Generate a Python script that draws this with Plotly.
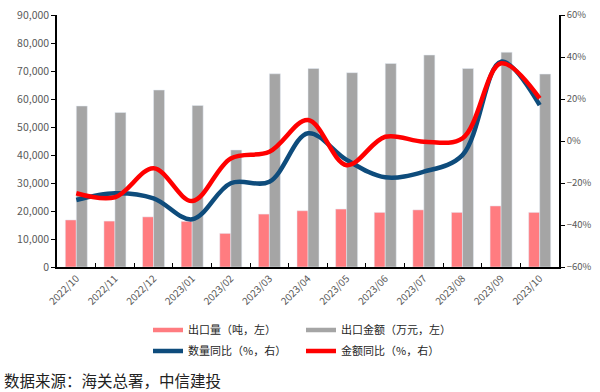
import plotly.graph_objects as go
from plotly.subplots import make_subplots

months = ["2022/10", "2022/11", "2022/12", "2023/01", "2023/02", "2023/03", "2023/04",
          "2023/05", "2023/06", "2023/07", "2023/08", "2023/09", "2023/10"]
export_qty = [16800, 16400, 17900, 16300, 12000, 18900, 20100, 20700, 19500, 20400, 19500, 21800, 19500]
export_amt = [57500, 55200, 63200, 57700, 41800, 69000, 70900, 69400, 72700, 75700, 70900, 76700, 68900]
qty_yoy = [-28.1, -24.9, -27.3, -37.3, -20.1, -19.4, 3.7, -9.0, -17.3, -14.6, -6.7, 37.8, 17.1]
amt_yoy = [-24.9, -26.8, -13.0, -28.6, -8.3, -5.1, 10.0, -11.5, 2.0, -0.3, 1.3, 37.0, 20.3]

names = ["出口量（吨，左）", "出口金额（万元，左）", "数量同比（%，右）", "金额同比（%，右）"]
PINK = "#FF7C80"
GRAY = "#A5A5A5"
BLUE = "#0E4C7C"
RED = "#FF0000"
FONT = "Noto Sans CJK SC"

fig = make_subplots(specs=[[{"secondary_y": True}]])

fig.add_trace(go.Bar(x=months, y=export_qty, marker_color=PINK, name=names[0], showlegend=False),
              secondary_y=False)
fig.add_trace(go.Bar(x=months, y=export_amt, marker_color=GRAY, name=names[1], showlegend=False),
              secondary_y=False)
fig.add_trace(go.Scatter(x=months, y=qty_yoy, mode="lines", name=names[2], showlegend=False,
                         line=dict(color=BLUE, width=4.5, shape="spline", smoothing=1.0)),
              secondary_y=True)
fig.add_trace(go.Scatter(x=months, y=amt_yoy, mode="lines", name=names[3], showlegend=False,
                         line=dict(color=RED, width=4.5, shape="spline", smoothing=1.0)),
              secondary_y=True)

# legend entries drawn as thick line swatches like the reference (two one-row legends)
for i, (nm, col) in enumerate(zip(names, [PINK, GRAY, BLUE, RED])):
    fig.add_trace(go.Scatter(x=[None], y=[None], mode="lines", name=nm,
                             line=dict(color=col, width=4.5), showlegend=True,
                             legend="legend" if i < 2 else "legend2"),
                  secondary_y=True)

leg_common = dict(orientation="h", xref="container", yref="container",
                  xanchor="left", yanchor="middle", entrywidth=108, entrywidthmode="pixels",
                  font=dict(family=FONT, size=11, color="#262626"), itemwidth=30,
                  bgcolor="rgba(0,0,0,0)")

fig.update_layout(
    width=600, height=392,
    margin=dict(l=57, r=41, t=15, b=125, autoexpand=False),
    paper_bgcolor="white", plot_bgcolor="white",
    barmode="group", bargap=0.43, bargroupgap=0,
    font=dict(family=FONT, size=11, color="#404040"),
    legend=dict(x=148 / 600, y=1 - 330 / 392, **leg_common),
    legend2=dict(x=148 / 600, y=1 - 351 / 392, **leg_common),
    annotations=[dict(text="数据来源：海关总署，中信建投", xref="paper", yref="paper",
                      x=-0.11, y=-0.448, xanchor="left", yanchor="middle", showarrow=False,
                      font=dict(family=FONT, size=15.5, color="#222222"))],
)

fig.update_xaxes(type="category", domain=[0, 1], showline=True, linecolor="black", linewidth=1.5,
                 ticks="inside", tickson="boundaries", ticklen=4, tickcolor="black",
                 tickangle=-45, tickfont=dict(size=10, color="#595959", family=FONT),
                 showgrid=False, zeroline=False, automargin=False)
fig.update_yaxes(range=[0, 90000], dtick=10000, tickformat=",d", showline=True,
                 linecolor="black", linewidth=1.5, ticks="outside", ticklen=4,
                 tickcolor="black", tickfont=dict(size=10.5, color="#595959", family=FONT),
                 showgrid=False, zeroline=False, automargin=False, secondary_y=False)
fig.update_yaxes(range=[-60, 60], dtick=20, ticksuffix="%", showline=True,
                 linecolor="black", linewidth=1.5, ticks="outside", ticklen=4,
                 tickcolor="black", tickfont=dict(size=9.5, color="#595959", family=FONT),
                 showgrid=False, zeroline=False, automargin=False, secondary_y=True)

fig.write_html("out.html", config={"displayModeBar": False},
               post_script="document.body.style.margin='0';")
